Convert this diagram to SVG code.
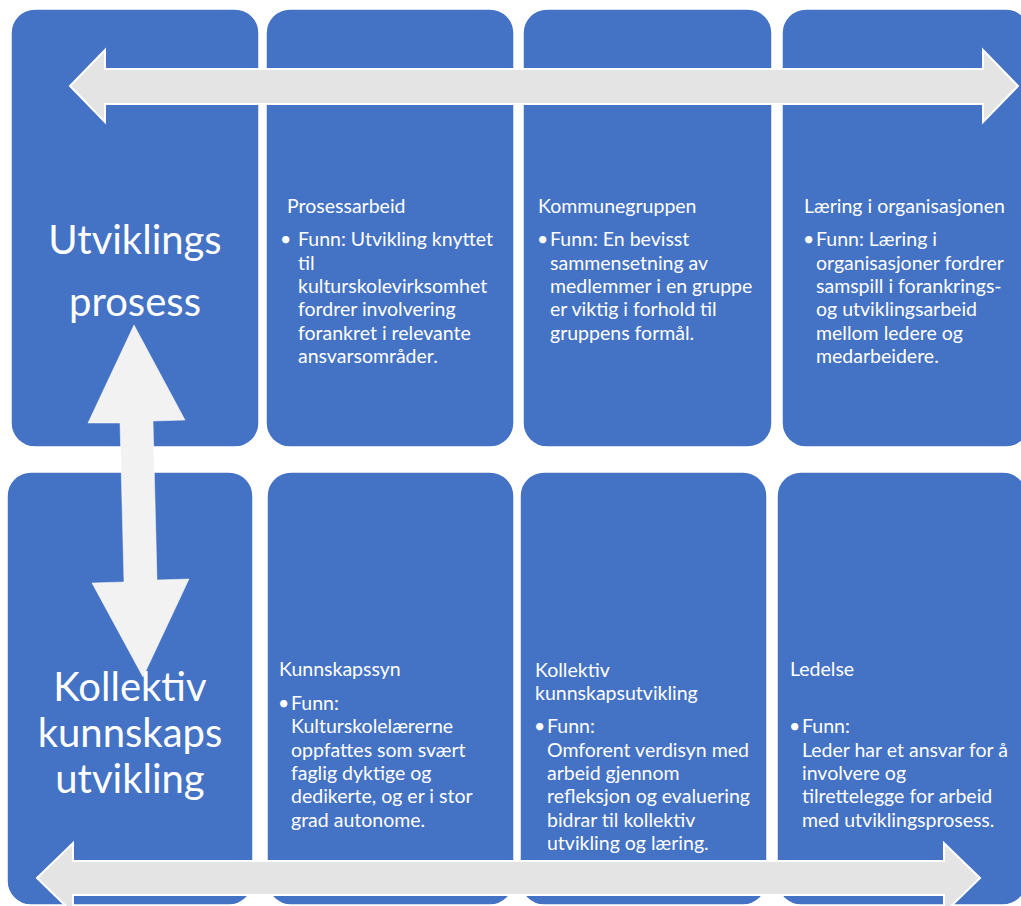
<svg xmlns="http://www.w3.org/2000/svg" width="1021" height="906" viewBox="0 0 1021 906">
<style>
.box{fill:#4472C4;stroke:#FFFFFF;stroke-width:1.5}
.big{font-family:Lato,"Liberation Sans",sans-serif;font-size:40px;fill:#FFFFFF;text-anchor:middle}
.hd{font-family:Lato,"Liberation Sans",sans-serif;font-size:19.5px;fill:#FFFFFF}
.tx{font-family:Lato,"Liberation Sans",sans-serif;font-size:19.5px;fill:#FFFFFF}
.harrow{fill:#E4E4E4;stroke:#FFFFFF;stroke-width:2}
.varrow{fill:#F2F2F2;stroke:#FFFFFF;stroke-width:0.5}
</style>
<rect width="1021" height="906" fill="#FFFFFF"/>
<g id="top-1">
<rect class="box" x="11" y="9" width="248" height="438" rx="24"/>
<text class="big" x="135" y="254">Utviklings</text>
<text class="big" x="135" y="316">prosess</text>
</g>
<g id="top-2">
<rect class="box" x="266" y="9" width="248" height="438" rx="24"/>
<text class="hd" x="287" y="213">Prosessarbeid</text>
<text class="tx" x="280" y="246">•</text>
<text class="tx"><tspan x="298" y="246">Funn: Utvikling knyttet</tspan><tspan x="298" y="269.5">til</tspan><tspan x="298" y="293">kulturskolevirksomhet</tspan><tspan x="298" y="316">fordrer involvering</tspan><tspan x="298" y="339.5">forankret i relevante</tspan><tspan x="298" y="363">ansvarsområder.</tspan></text>
</g>
<g id="top-3">
<rect class="box" x="523" y="9" width="249" height="438" rx="24"/>
<text class="hd" x="538" y="213">Kommunegruppen</text>
<text class="tx" x="537" y="246">•</text>
<text class="tx"><tspan x="550" y="246">Funn: En bevisst</tspan><tspan x="550" y="269.5">sammensetning av</tspan><tspan x="550" y="293">medlemmer i en gruppe</tspan><tspan x="550" y="316">er viktig i forhold til</tspan><tspan x="550" y="339.5">gruppens formål.</tspan></text>
</g>
<g id="top-4">
<rect class="box" x="782" y="9" width="248" height="438" rx="24"/>
<text class="hd" x="804" y="213">Læring i organisasjonen</text>
<text class="tx" x="803" y="246">•</text>
<text class="tx"><tspan x="816" y="246">Funn: Læring i</tspan><tspan x="816" y="269.5">organisasjoner fordrer</tspan><tspan x="816" y="293">samspill i forankrings-</tspan><tspan x="816" y="316">og utviklingsarbeid</tspan><tspan x="816" y="339.5">mellom ledere og</tspan><tspan x="816" y="363">medarbeidere.</tspan></text>
</g>
<g id="bottom-1">
<rect class="box" x="7" y="472" width="246" height="433" rx="24"/>
<text class="big" x="130" y="701">Kollektiv</text>
<text class="big" x="130" y="747">kunnskaps</text>
<text class="big" x="130" y="793">utvikling</text>
</g>
<g id="bottom-2">
<rect class="box" x="267" y="472" width="247" height="433" rx="24"/>
<text class="hd" x="279" y="676">Kunnskapssyn</text>
<text class="tx" x="278" y="710">•</text>
<text class="tx"><tspan x="291" y="710">Funn:</tspan><tspan x="291" y="733">Kulturskolelærerne</tspan><tspan x="291" y="756.5">oppfattes som svært</tspan><tspan x="291" y="780">faglig dyktige og</tspan><tspan x="291" y="803">dedikerte, og er i stor</tspan><tspan x="291" y="826.5">grad autonome.</tspan></text>
</g>
<g id="bottom-3">
<rect class="box" x="520" y="472" width="247" height="433" rx="24"/>
<text class="hd"><tspan x="535" y="677">Kollektiv</tspan><tspan x="535" y="700">kunnskapsutvikling</tspan></text>
<text class="tx" x="534" y="733">•</text>
<text class="tx"><tspan x="547" y="733">Funn:</tspan><tspan x="547" y="756.5">Omforent verdisyn med</tspan><tspan x="547" y="780">arbeid gjennom</tspan><tspan x="547" y="803">refleksjon og evaluering</tspan><tspan x="547" y="826.5">bidrar til kollektiv</tspan><tspan x="547" y="850">utvikling og læring.</tspan></text>
</g>
<g id="bottom-4">
<rect class="box" x="777" y="472" width="250" height="433" rx="24"/>
<text class="hd" x="790" y="676">Ledelse</text>
<text class="tx" x="789" y="733">•</text>
<text class="tx"><tspan x="802" y="733">Funn:</tspan><tspan x="802" y="756.5">Leder har et ansvar for å</tspan><tspan x="802" y="780">involvere og</tspan><tspan x="802" y="803">tilrettelegge for arbeid</tspan><tspan x="802" y="826.5">med utviklingsprosess.</tspan></text>
</g>
<g id="connectors">
<polygon class="harrow" points="70,86 105,50 105,69 983,69 983,50 1018,86 983,122 983,104 105,104 105,122"/>
<polygon class="varrow" points="134,325 185,420 153,421 157,580 189,579 143,677 92,583 124,582 120,423 88,423"/>
<polygon class="harrow" points="37,878 73,843 73,861 944,861 944,843 980,878 944,913 944,895 73,895 73,913"/>
</g>
</svg>
